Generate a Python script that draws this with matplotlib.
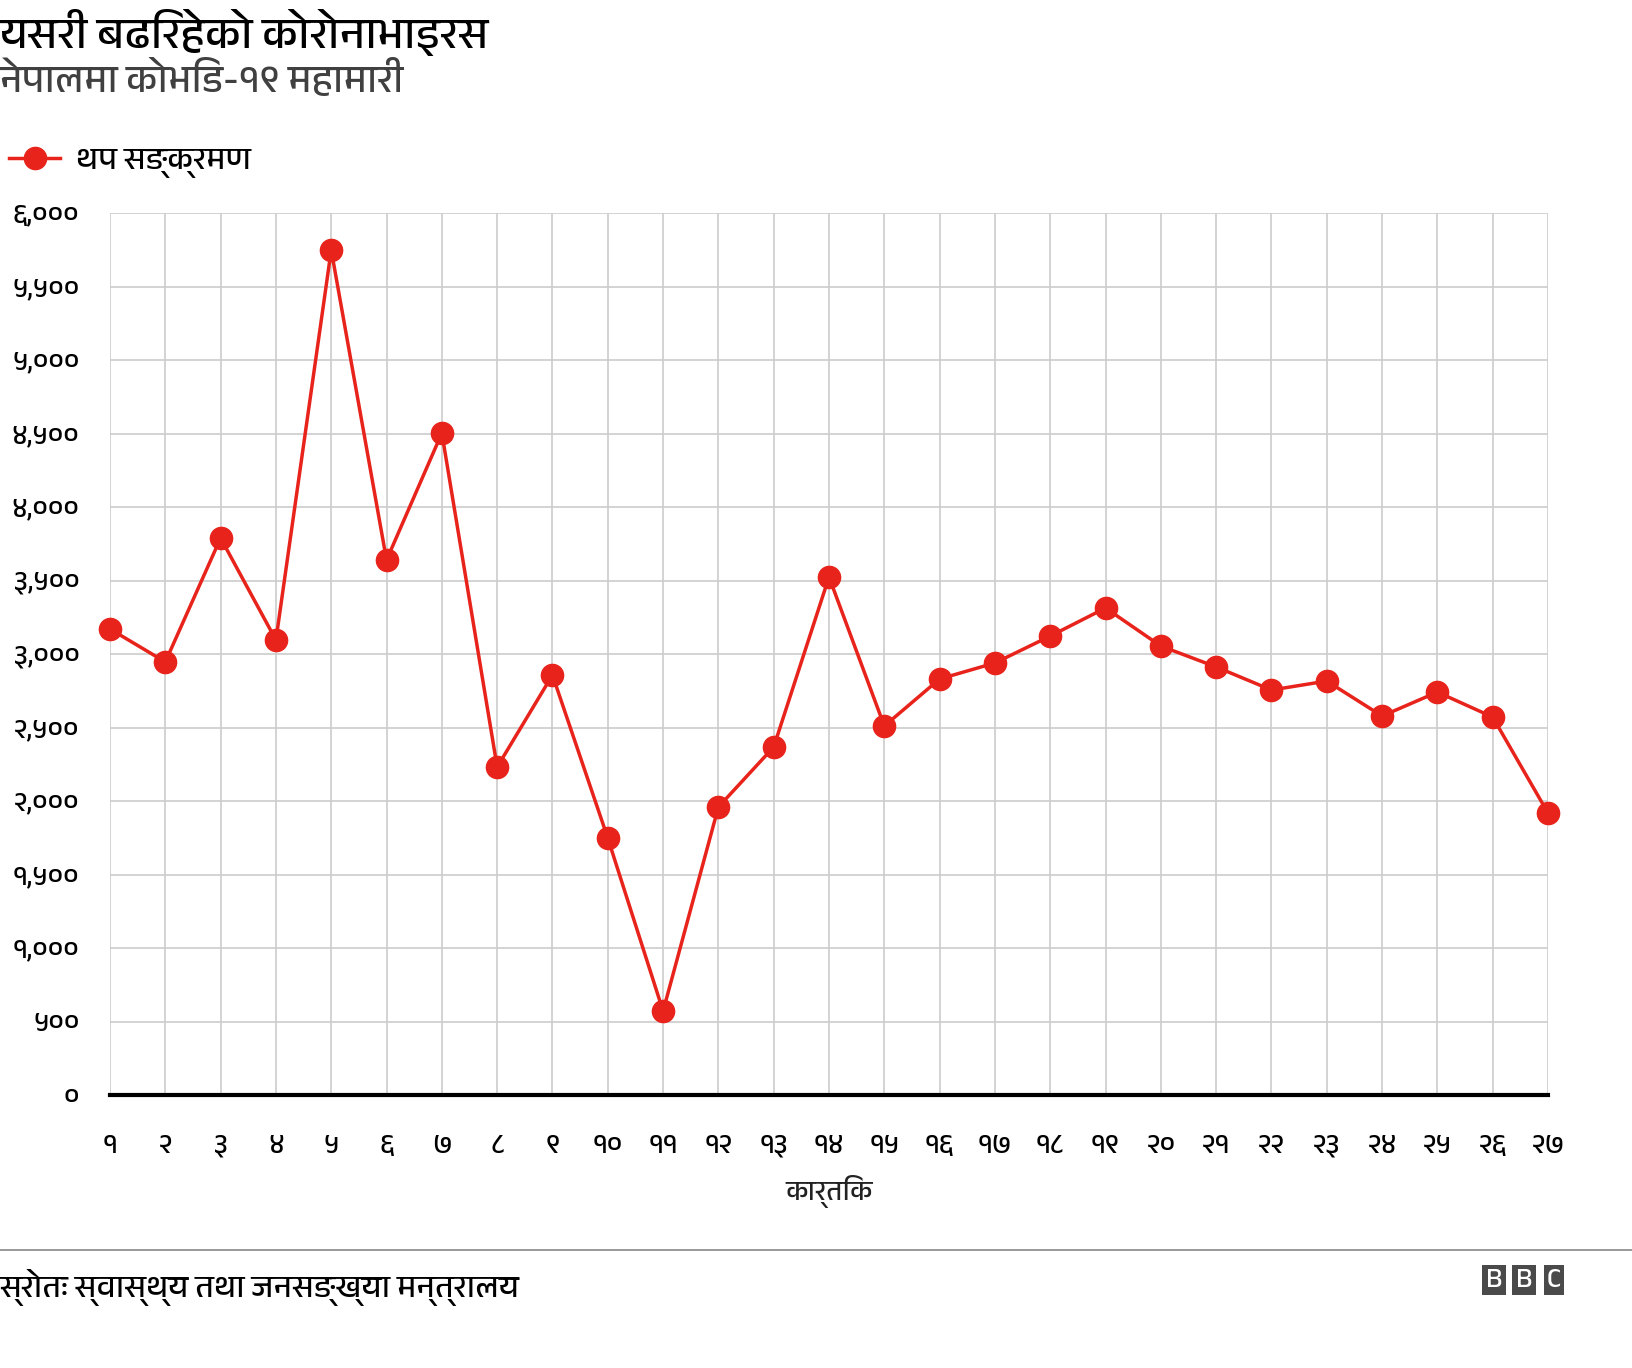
import matplotlib.pyplot as plt
import matplotlib.font_manager as fm

fams = {f.name for f in fm.fontManager.ttflist}
deva = [f for f in sorted(fams) if "Devanagari" in f or "Lohit" in f or "Mukta" in f]
plt.rcParams["font.family"] = deva + ["Noto Sans", "DejaVu Sans"]

days = list(range(1, 28))
new_cases = [3170, 2946, 3789, 3095, 5748, 3639, 4503, 2231, 2857, 1748,
             571, 1959, 2367, 3524, 2510, 2830, 2939, 3122, 3313, 3054,
             2912, 2755, 2816, 2578, 2741, 2571, 1918]
y_ticks = list(range(0, 6001, 500))

DIG = str.maketrans("0123456789", "०१२३४५६७८९")


def dev(n, comma=False):
    s = f"{n:,}" if comma else str(n)
    return s.translate(DIG)


fig = plt.figure(figsize=(16.32, 13.68), dpi=100)
ax = fig.add_axes([110 / 1632, 1 - 1095 / 1368, (1548 - 110) / 1632, (1095 - 213) / 1368])

ax.plot(days, new_cases, color="#e8231b", lw=2.5, marker="o", ms=16,
        clip_on=False, zorder=3, label="थप सङ्क्रमण")
ax.set_xlim(1, 27)
ax.set_ylim(0, 6000)
ax.set_xticks(days)
ax.set_xticklabels([dev(d) for d in days], fontsize=20)
ax.set_yticks(y_ticks)
ax.set_yticklabels([dev(v, True) for v in y_ticks], fontsize=20)
ax.grid(True, color="#cccccc", lw=1.2)
for s in ["top", "right", "left"]:
    ax.spines[s].set_visible(False)
ax.spines["bottom"].set_linewidth(3)
ax.spines["bottom"].set_zorder(4)
ax.tick_params(length=0, pad=22)
ax.tick_params(axis="x", pad=28)
ax.set_xlabel("कार्तिक", fontsize=20, color="#222222", labelpad=12)

fig.text(0.0, 1 - 32 / 1368, "यसरी बढिरहेको कोरोनाभाइरस", fontsize=32,
         fontweight="bold", va="center")
fig.text(0.0, 1 - 80 / 1368, "नेपालमा कोभिड-१९ महामारी", fontsize=28,
         color="#404040", va="center")
fig.legend(loc="upper left", bbox_to_anchor=(-0.012, 1 - 118 / 1368),
           frameon=False, fontsize=23, handlelength=1.6, handletextpad=0.5)

fig.add_artist(plt.Line2D([0, 1], [1 - 1250 / 1368] * 2, color="#888888", lw=1.2))
fig.text(0.0, 1 - 1287 / 1368, "स्रोतः स्वास्थ्य तथा जनसङ्ख्या मन्त्रालय",
         fontsize=23, va="center")
for i, ch in enumerate("BBC"):
    x = 1494 + i * 30
    fig.text(x / 1632, 1 - 1280 / 1368, ch, fontsize=20, fontweight="bold",
             color="white", ha="center", va="center",
             bbox=dict(boxstyle="square,pad=0.12", fc="#4a4a4a", ec="none"))

fig.savefig("out.png", dpi=100)
